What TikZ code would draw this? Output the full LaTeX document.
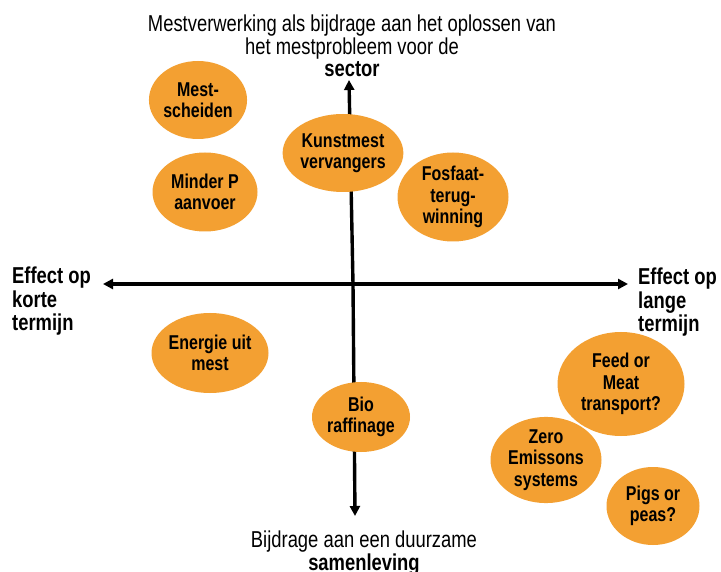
\documentclass[tikz,border=0pt]{standalone}
\usepackage{fontspec}
\setmainfont{Liberation Sans}[FakeStretch=0.8]
\usetikzlibrary{shapes.geometric,arrows.meta}
\definecolor{blob}{RGB}{243,160,50}
\tikzset{
  blobnode/.style={ellipse,fill=blob,inner sep=0pt,align=center,font=\bfseries\fontsize{20}{21.5}\selectfont},
  axis/.style={line width=3.4pt,-{Triangle[length=10pt,width=10pt]}},
  bold lab/.style={align=left,anchor=north west,font=\bfseries\fontsize{23}{23.5}\selectfont,inner sep=0pt},
  plain lab/.style={align=center,font=\fontsize{23}{22.5}\selectfont,inner sep=0pt}
}
\begin{document}
\begin{tikzpicture}[x=1pt,y=-1pt]
\useasboundingbox (0,0) rectangle (721,572);
\fill[white] (0,0) rectangle (721,572);
% axes
\coordinate (C) at (353,284);
\coordinate (L) at (103,284);
\coordinate (R) at (628,284);
\coordinate (T) at (349,80);
\coordinate (B) at (355,516);
\draw[axis] (C) -- (L);
\draw[axis] (C) -- (R);
\draw[axis] (C) -- (T);
\draw[axis] (C) -- (B);
% labels
\node[plain lab,anchor=north] (title) at (352,15) {Mestverwerking als bijdrage aan het oplossen van\\het mestprobleem voor de\\\bfseries sector};
\node[plain lab,anchor=north] (bottom) at (364,531) {Bijdrage aan een duurzame\\\bfseries samenleving};
\node[bold lab] (left) at (12,267) {Effect op\\korte\\termijn};
\node[bold lab] (right) at (638,268) {Effect op\\lange\\termijn};
% ellipses
\node[blobnode,minimum width=92pt,minimum height=78pt] (ms) at (198,100) {Mest-\\scheiden};
\node[blobnode,minimum width=105pt,minimum height=79pt] (mp) at (205,192) {Minder P\\aanvoer};
\node[blobnode,minimum width=118pt,minimum height=78pt] (kv) at (343,153) {Kunstmest\\vervangers};
\node[blobnode,minimum width=111pt,minimum height=89pt] (ft) at (453,197) {Fosfaat-\\terug-\\winning};
\node[blobnode,minimum width=117pt,minimum height=80pt] (em) at (210,353) {Energie uit\\mest};
\node[blobnode,minimum width=98pt,minimum height=70pt] (br) at (361,417) {Bio\\raffinage};
\node[blobnode,minimum width=127pt,minimum height=104pt] (fm) at (621,384) {Feed or\\Meat\\transport?};
\node[blobnode,minimum width=111pt,minimum height=86pt] (ze) at (546,460) {Zero\\Emissons\\systems};
\node[blobnode,minimum width=93pt,minimum height=78pt] (pp) at (653,506) {Pigs or\\peas?};
\end{tikzpicture}
\end{document}
